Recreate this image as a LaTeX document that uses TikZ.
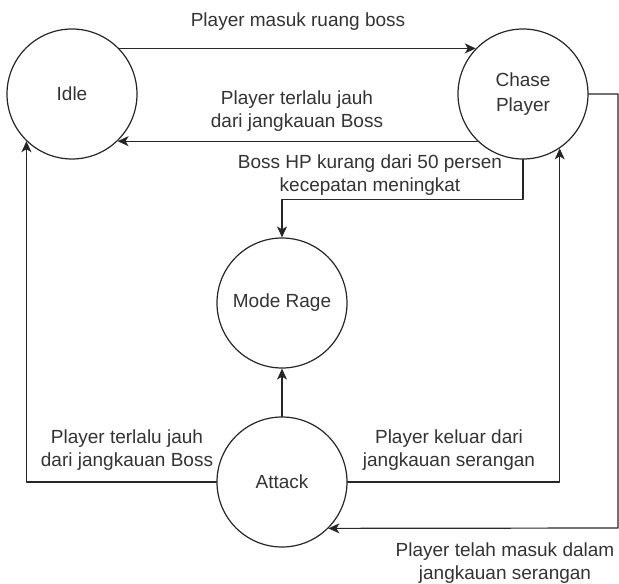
\documentclass[tikz,border=0pt]{standalone}
\usepackage{fontspec}
\setmainfont{Liberation Sans}
\usetikzlibrary{arrows.meta}
\usetikzlibrary{calc}

\begin{document}
\begin{tikzpicture}[line cap=round,line join=round,>={Stealth[length=11pt,width=10pt,inset=3pt]},x=1pt,y=-1pt,
  every node/.style={font=\fontsize{19}{23}\selectfont,text=black!80},
  stnode/.style={draw=black!85,circle,line width=1.2pt,minimum size=130pt,inner sep=0pt,align=center},
  lbl/.style={align=center,inner sep=0pt},
  conn/.style={->,line width=1.2pt,draw=black!85}]
\useasboundingbox (0,0) rectangle (619,584);
% states
\node[stnode] (idle) at (72,94) {Idle};
\node[stnode] (chase) at (523,94) {Chase\\[2pt]Player};
\node[stnode] (rage) at (282,303) {Mode Rage};
\node[stnode] (attack) at (282,482) {Attack};
% labels
\node[lbl] (lmasuk) at (298,22) {Player masuk ruang boss};
\node[lbl] (ljauh) at (297,111) {Player terlalu jauh\\dari jangkauan Boss};
\node[lbl] (lhp) at (370,175) {Boss HP kurang dari 50 persen\\kecepatan meningkat};
\node[lbl] (ljauhb) at (127,450) {Player terlalu jauh\\dari jangkauan Boss};
\node[lbl] (lkeluar) at (449,450) {Player keluar dari\\jangkauan serangan};
\node[lbl] (ltelah) at (505,563) {Player telah masuk dalam\\jangkauan serangan};
% transitions
\draw[conn] (idle.44)-- (chase.136);
\draw[conn] (chase.-134)-- (idle.-46);
\draw[conn] (chase.south)-- ++(0,40) -| (rage.north);
\draw[conn] (attack.north)-- (rage.south);
\draw[conn] (attack.west) -| (idle.-134);
\draw[conn] (attack.east) -| (chase.-56);
\coordinate (rc) at (618,528);
\draw[conn] (chase.east) -| (rc)-- (attack.-45);
\end{tikzpicture}
\end{document}
